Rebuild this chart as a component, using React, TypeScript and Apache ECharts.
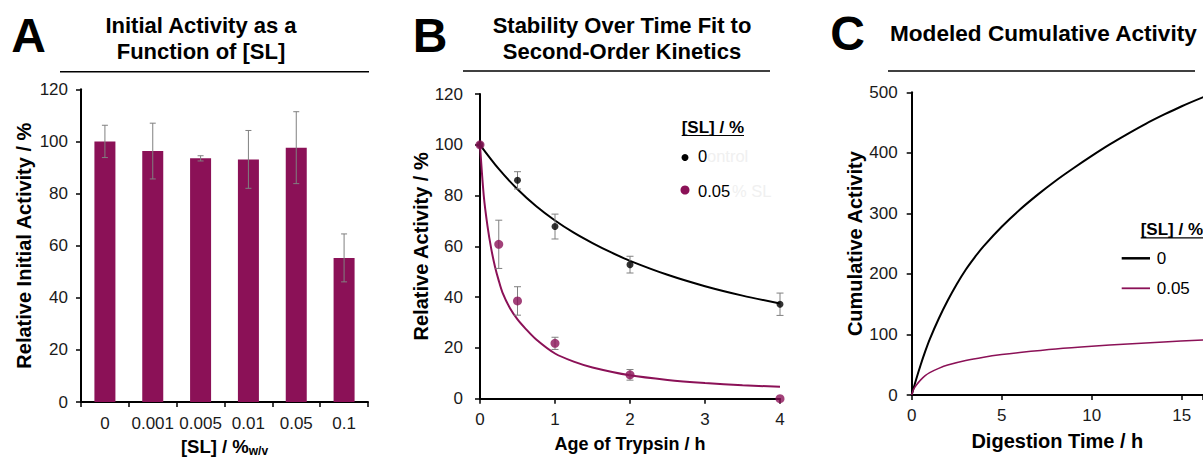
import React, { useEffect, useRef } from "react";
import * as echarts from "echarts";

const PURPLE = "#8b1157";
const ERR_GRAY = "#808080";
const FONT = "'Liberation Sans', Arial, Helvetica, sans-serif";

// Panel A
const slCategories = ["0", "0.001", "0.005", "0.01", "0.05", "0.1"];
const initialActivity = [100, 96.3, 93.5, 93.1, 97.6, 55.3];
const initialActivityErr = [6.2, 10.7, 1.0, 11.1, 13.8, 9.2];

// Panel B (measured points)
const ageTime0 = [0, 0.5, 1, 2, 4];
const activity0 = [100, 86, 67.8, 52.8, 37.2];
const activity0Err = [0, 3.4, 4.9, 3.3, 4.4];
const ageTime005 = [0, 0.25, 0.5, 1, 2, 4];
const activity005 = [100, 60.8, 38.5, 21.8, 9.4, 0];
const activity005Err = [0, 9.5, 5.6, 2.4, 2.1, 0];

// Panel B (fit curves)
const fitTime0 = [0, 0.25, 0.5, 0.75, 1, 1.25, 1.5, 1.75, 2, 2.5, 3, 3.5, 4];
const fitActivity0 = [100, 90.5, 82.5, 75.8, 70.2, 65.4, 61.3, 57.6, 54.3, 48.8, 44.3, 40.6, 37.5];
const fitTime005 = [0, 0.05, 0.1, 0.15, 0.2, 0.25, 0.3, 0.4, 0.5, 0.6, 0.75, 1, 1.25, 1.5, 2, 2.5, 3, 3.5, 4];
const fitActivity005 = [100, 80, 68, 59, 52, 46.5, 41.8, 35.6, 31.2, 27.8, 23.3, 17.8, 14.6, 12.3, 9.2, 7.4, 6.2, 5.3, 4.7];

// Panel C (modeled cumulative activity)
const digestTime0 = [0, 0.25, 0.5, 0.75, 1, 1.5, 2, 2.5, 3, 3.5, 4, 5, 6, 7, 8, 9, 10, 11, 12, 13, 14, 15, 16.2];
const cumulative0 = [0, 26, 50, 72, 92, 126, 156, 183, 207, 227.5, 246, 278, 306, 331, 354, 375, 395, 414, 431.5, 448, 463, 477, 492];
const digestTime005 = [0, 0.1, 0.25, 0.5, 0.75, 1, 1.5, 2, 3, 4, 5, 6, 8, 10, 12, 14, 16.2];
const cumulative005 = [0, 9, 16, 25, 32, 37, 44, 49.5, 57, 62.5, 66.8, 70.2, 76, 80.5, 84.2, 87.6, 91];

const legendLabels = ["0", "0.05"];

const axisCommon = {
  axisLine: { show: true, onZero: false, lineStyle: { color: "#000", width: 2 } },
  axisTick: { show: true, inside: false, length: 5, lineStyle: { color: "#000", width: 1.5 } },
  splitLine: { show: false },
  axisLabel: { color: "#1a1a1a", fontSize: 17, fontFamily: FONT },
  nameTextStyle: { color: "#000", fontWeight: "bold", fontFamily: FONT },
  nameLocation: "middle" as const,
};

function errorRender(halfCap: number) {
  return (params: any, api: any) => {
    const x = api.value(0);
    const y = api.value(1);
    const e = api.value(2);
    if (!e) return null;
    const hi = api.coord([x, y + e]);
    const lo = api.coord([x, y - e]);
    const style = { stroke: ERR_GRAY, lineWidth: 1 };
    return {
      type: "group",
      children: [
        { type: "line", shape: { x1: hi[0], y1: hi[1], x2: lo[0], y2: lo[1] }, style },
        { type: "line", shape: { x1: hi[0] - halfCap, y1: hi[1], x2: hi[0] + halfCap, y2: hi[1] }, style },
        { type: "line", shape: { x1: lo[0] - halfCap, y1: lo[1], x2: lo[0] + halfCap, y2: lo[1] }, style },
      ],
    };
  };
}

function txt(text: string, x: number, y: number, size: number, opts: any = {}) {
  return {
    type: "text",
    x,
    y,
    silent: true,
    style: {
      text,
      fill: opts.fill || "#000",
      font: `${opts.weight || "normal"} ${size}px ${FONT}`,
      textAlign: opts.align || "left",
      textVerticalAlign: "middle",
    },
  };
}

function hline(x1: number, x2: number, y: number, color = "#000", width = 1.5) {
  return { type: "line", silent: true, shape: { x1, y1: y, x2, y2: y }, style: { stroke: color, lineWidth: width } };
}

function curve(xIdx: number, xs: number[], ys: number[], color: string, width: number) {
  return {
    type: "line",
    xAxisIndex: xIdx,
    yAxisIndex: xIdx,
    data: xs.map((t, i) => [t, ys[i]]),
    showSymbol: false,
    smooth: 0.3,
    lineStyle: { color, width },
    z: 2,
  };
}

export default function App() {
  const ref = useRef<HTMLDivElement>(null);
  useEffect(() => {
    if (!ref.current) return;
    const chart = echarts.init(ref.current, null, { renderer: "svg" });
    const option: any = {
      animation: false,
      backgroundColor: "#fff",
      grid: [
        { left: 81, top: 89.3, width: 287, height: 312.7, outerBoundsMode: "none" },
        { left: 480, top: 94, width: 300, height: 304.7, outerBoundsMode: "none" },
        { left: 911.7, top: 92.3, width: 291.3, height: 302.7, outerBoundsMode: "none" },
      ],
      xAxis: [
        {
          ...axisCommon,
          gridIndex: 0,
          type: "category",
          data: slCategories,
          axisLabel: { ...axisCommon.axisLabel, interval: 0, margin: 13 },
          name: "{m|[SL] / %}{s|w/v}",
          nameGap: 31,
          nameTextStyle: {
            ...axisCommon.nameTextStyle,
            rich: {
              m: { fontSize: 18.5, fontWeight: "bold", fontFamily: FONT, color: "#000" },
              s: { fontSize: 12, fontWeight: "bold", fontFamily: FONT, color: "#000", verticalAlign: "bottom", padding: [9, 0, 0, 0] },
            },
          },
        },
        {
          ...axisCommon,
          gridIndex: 1,
          type: "value",
          min: 0,
          max: 4,
          interval: 1,
          axisLabel: { ...axisCommon.axisLabel, margin: 12 },
          name: "Age of Trypsin / h",
          nameGap: 36,
          nameTextStyle: { ...axisCommon.nameTextStyle, fontSize: 18 },
        },
        {
          ...axisCommon,
          gridIndex: 2,
          type: "value",
          min: 0,
          max: 16.18,
          interval: 5,
          axisLabel: {
            ...axisCommon.axisLabel,
            margin: 12,
            formatter: (v: number) => (Math.abs(v % 5) < 1e-9 ? String(v) : ""),
          },
          name: "Digestion Time / h",
          nameGap: 36,
          nameTextStyle: { ...axisCommon.nameTextStyle, fontSize: 20 },
        },
      ],
      yAxis: [
        {
          ...axisCommon,
          gridIndex: 0,
          type: "value",
          min: 0,
          max: 120,
          interval: 20,
          axisLabel: { ...axisCommon.axisLabel, margin: 13 },
          name: "Relative Initial Activity / %",
          nameGap: 47,
          nameTextStyle: { ...axisCommon.nameTextStyle, fontSize: 20 },
        },
        {
          ...axisCommon,
          gridIndex: 1,
          type: "value",
          min: 0,
          max: 120,
          interval: 20,
          axisLabel: { ...axisCommon.axisLabel, margin: 17 },
          name: "Relative Activity / %",
          nameGap: 47,
          nameTextStyle: { ...axisCommon.nameTextStyle, fontSize: 20 },
        },
        {
          ...axisCommon,
          gridIndex: 2,
          type: "value",
          min: 0,
          max: 500,
          interval: 100,
          axisLabel: { ...axisCommon.axisLabel, margin: 14 },
          name: "Cumulative Activity",
          nameGap: 46,
          nameTextStyle: { ...axisCommon.nameTextStyle, fontSize: 20 },
        },
      ],
      series: [
        {
          type: "bar",
          xAxisIndex: 0,
          yAxisIndex: 0,
          data: initialActivity,
          barWidth: 21,
          itemStyle: { color: PURPLE },
          z: 2,
        },
        {
          type: "custom",
          xAxisIndex: 0,
          yAxisIndex: 0,
          renderItem: errorRender(3),
          encode: { x: 0, y: 1 },
          data: slCategories.map((_, i) => [i, initialActivity[i], initialActivityErr[i]]),
          z: 3,
        },
        curve(1, fitTime0, fitActivity0, "#000", 2),
        curve(1, fitTime005, fitActivity005, PURPLE, 2),
        {
          type: "custom",
          xAxisIndex: 1,
          yAxisIndex: 1,
          renderItem: errorRender(3.5),
          encode: { x: 0, y: 1 },
          data: ageTime0.map((t, i) => [t, activity0[i], activity0Err[i]]),
          z: 3,
        },
        {
          type: "custom",
          xAxisIndex: 1,
          yAxisIndex: 1,
          renderItem: errorRender(3.5),
          encode: { x: 0, y: 1 },
          data: ageTime005.map((t, i) => [t, activity005[i], activity005Err[i]]),
          z: 3,
        },
        {
          type: "scatter",
          xAxisIndex: 1,
          yAxisIndex: 1,
          data: ageTime0.map((t, i) => [t, activity0[i]]),
          symbol: "circle",
          symbolSize: 7,
          itemStyle: { color: "#000" },
          z: 5,
        },
        {
          type: "scatter",
          xAxisIndex: 1,
          yAxisIndex: 1,
          data: ageTime005.map((t, i) => [t, activity005[i]]),
          symbol: "circle",
          symbolSize: 9,
          itemStyle: { color: PURPLE },
          z: 6,
        },
        curve(2, digestTime0, cumulative0, "#000", 2),
        curve(2, digestTime005, cumulative005, PURPLE, 1.5),
      ],
      graphic: [
        // panel letters
        txt("A", 28.5, 35, 48, { weight: "bold", align: "center" }),
        txt("B", 430, 35, 48, { weight: "bold", align: "center" }),
        txt("C", 847.5, 33.5, 48, { weight: "bold", align: "center" }),
        // titles
        txt("Initial Activity as a", 201, 25.5, 22, { weight: "bold", align: "center" }),
        txt("Function of [SL]", 201, 51.5, 22, { weight: "bold", align: "center" }),
        txt("Stability Over Time Fit to", 622, 25.5, 22, { weight: "bold", align: "center" }),
        txt("Second-Order Kinetics", 622, 51.5, 22, { weight: "bold", align: "center" }),
        txt("Modeled Cumulative Activity", 890, 33.3, 22.6, { weight: "bold" }),
        hline(60, 369, 71.7),
        hline(463, 770, 71),
        hline(888, 1195, 71),
        // legend B
        txt("[SL] / %", 681.7, 127.7, 17, { weight: "bold" }),
        hline(681.7, 744, 135.5, "#000", 1.2),
        { type: "circle", silent: true, shape: { cx: 685, cy: 157.5, r: 3.5 }, style: { fill: "#000" } },
        txt(legendLabels[0], 698, 156.2, 16.5),
        txt("ontrol", 707, 156.2, 16.5, { fill: "#f0f0f0" }),
        { type: "circle", silent: true, shape: { cx: 685, cy: 190, r: 4.5 }, style: { fill: PURPLE } },
        txt(legendLabels[1], 698, 190.5, 16.5),
        txt("% SL", 732, 190.5, 16.5, { fill: "#f0f0f0" }),
        // legend C
        txt("[SL] / %", 1140.7, 229.5, 17, { weight: "bold" }),
        hline(1140.7, 1203, 237.8, "#000", 1.2),
        hline(1121.7, 1150, 258.3, "#000", 2.5),
        txt(legendLabels[0], 1156.7, 258.3, 17),
        hline(1121.7, 1150, 288.3, PURPLE, 1.8),
        txt(legendLabels[1], 1156.7, 288.3, 17),
      ],
    };
    chart.setOption(option);
    return () => chart.dispose();
  }, []);
  return (
    <div
      ref={ref}
      style={{ position: "fixed", left: 0, top: 0, width: 1203, height: 459, background: "#fff" }}
    />
  );
}
